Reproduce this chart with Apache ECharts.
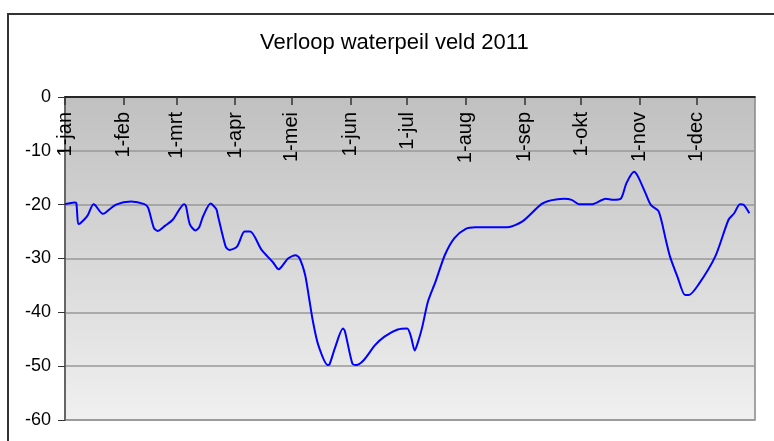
<!DOCTYPE html>
<html>
<head>
<meta charset="utf-8">
<script src="https://cdn.jsdelivr.net/npm/echarts@6/dist/echarts.min.js"></script>
<style>
  html, body { margin: 0; padding: 0; background: #fff; }
  #chart { width: 774px; height: 441px; }
</style>
</head>
<body>
<div id="chart"></div>
<script>
var chartDom = document.getElementById("chart");
var myChart = echarts.init(chartDom);

// meetmomenten (2011) en waterpeil in cm
var dates = [
    '2011-01-01', '2011-01-06', '2011-01-07', '2011-01-08', '2011-01-09', '2011-01-13',
    '2011-01-16', '2011-01-17', '2011-01-21', '2011-01-22', '2011-01-28',
    '2011-02-05', '2011-02-12', '2011-02-14', '2011-02-17', '2011-02-19', '2011-02-23', '2011-02-27',
    '2011-03-05', '2011-03-06', '2011-03-08', '2011-03-11', '2011-03-13', '2011-03-15',
    '2011-03-19', '2011-03-22', '2011-03-23', '2011-03-27', '2011-03-29',
    '2011-04-02', '2011-04-06', '2011-04-09', '2011-04-15', '2011-04-21', '2011-04-24', '2011-04-29',
    '2011-05-03', '2011-05-05', '2011-05-08', '2011-05-10', '2011-05-12', '2011-05-15',
    '2011-05-20', '2011-05-21', '2011-05-24', '2011-05-28', '2011-05-29',
    '2011-06-02', '2011-06-04', '2011-06-08', '2011-06-14', '2011-06-19', '2011-06-26',
    '2011-07-01', '2011-07-03', '2011-07-05', '2011-07-07', '2011-07-09', '2011-07-12',
    '2011-07-16', '2011-07-21', '2011-07-26',
    '2011-08-01', '2011-08-06', '2011-08-23', '2011-08-31',
    '2011-09-10', '2011-09-15', '2011-09-22', '2011-09-26', '2011-09-30',
    '2011-10-07', '2011-10-14', '2011-10-18', '2011-10-22', '2011-10-25', '2011-10-29', '2011-10-31',
    '2011-11-04', '2011-11-07', '2011-11-11', '2011-11-15', '2011-11-17', '2011-11-21',
    '2011-11-25', '2011-11-27',
    '2011-12-02', '2011-12-11', '2011-12-18', '2011-12-21', '2011-12-24', '2011-12-26', '2011-12-29'
];
var peil = [
    -19.9, -19.6, -19.7, -23.6, -23.5, -22.0,
    -19.9, -20.1, -21.7, -21.6, -20.0,
    -19.4, -19.9, -20.6, -24.3, -24.9, -23.9, -22.8,
    -19.9, -20.3, -23.6, -24.8, -24.2, -22.2,
    -19.8, -20.8, -22.2, -27.8, -28.4,
    -27.8, -25.0, -25.0, -28.4, -30.7, -32.0, -30.0,
    -29.4, -29.9, -33.0, -37.1, -41.4, -46.1,
    -49.8, -49.6, -46.4, -43.0, -43.4,
    -49.5, -49.8, -48.9, -46.1, -44.5, -43.2,
    -43.0, -44.5, -47.1, -45.2, -42.7, -38.0,
    -34.3, -29.3, -26.2,
    -24.5, -24.2, -24.2, -23.1,
    -19.9, -19.2, -18.9, -19.1, -19.9,
    -19.9, -18.9, -19.1, -18.9, -16.0, -13.9, -14.7,
    -17.8, -20.1, -21.2, -26.8, -29.6, -33.4,
    -36.8, -36.8,
    -34.9, -29.6, -22.8, -21.6, -19.9, -20.0, -21.6
];
var maanden = ['jan', 'feb', 'mrt', 'apr', 'mei', 'jun', 'jul', 'aug', 'sep', 'okt', 'nov', 'dec'];

var data = [];
for (var i = 0; i < dates.length; i++) {
    data.push([dates[i], peil[i]]);
}

var fontName = 'Liberation Sans, Arial, sans-serif';

option = {
    animation: false,
    textStyle: {
        fontFamily: fontName
    },
    title: {
        text: 'Verloop waterpeil veld 2011',
        left: 255,
        top: 27,
        textStyle: {
            fontSize: 22,
            fontWeight: 'normal',
            color: '#000',
            fontFamily: fontName
        }
    },
    graphic: [{
        type: 'rect',
        shape: { x: 8, y: 14, width: 800, height: 500 },
        style: { fill: 'none', stroke: '#333', lineWidth: 2 },
        silent: true,
        z: -1
    }],
    grid: {
        left: 65,
        right: 19,
        top: 97,
        bottom: 21,
        show: true,
        borderColor: '#888',
        borderWidth: 1.5,
        backgroundColor: new echarts.graphic.LinearGradient(0, 0, 0, 1, [
            { offset: 0, color: '#c0c0c0' },
            { offset: 1, color: '#f0f0f0' }
        ])
    },
    xAxis: {
        type: 'time',
        position: 'top',
        min: '2011-01-01',
        max: '2012-01-01',
        splitNumber: 12,
        axisLine: {
            show: true,
            lineStyle: { color: '#000', width: 1.5 }
        },
        axisTick: {
            show: true,
            inside: true,
            length: 8,
            lineStyle: { color: '#333', width: 1.5 }
        },
        axisLabel: {
            inside: true,
            rotate: 90,
            margin: 15,
            fontSize: 20,
            color: '#000',
            showMaxLabel: false,
            hideOverlap: false,
            formatter: function (value) {
                var d = new Date(value);
                return '1-' + maanden[d.getMonth()];
            }
        },
        splitLine: { show: false },
        minorSplitLine: { show: false }
    },
    yAxis: {
        type: 'value',
        min: -60,
        max: 0,
        interval: 10,
        axisLine: {
            show: true,
            onZero: false,
            lineStyle: { color: '#666', width: 2 }
        },
        axisTick: {
            show: true,
            length: 7,
            lineStyle: { color: '#333' }
        },
        axisLabel: {
            fontSize: 18,
            color: '#000',
            margin: 14
        },
        splitLine: {
            show: true,
            lineStyle: { color: '#999', width: 1.5 }
        }
    },
    series: [{
        name: 'waterpeil',
        type: 'line',
        showSymbol: false,
        smooth: 0.25,
        lineStyle: { color: '#0000ff', width: 2 },
        data: data
    }]
};

if (option && typeof option === "object") {
    myChart.setOption(option, true);
}
</script>
</body>
</html>
